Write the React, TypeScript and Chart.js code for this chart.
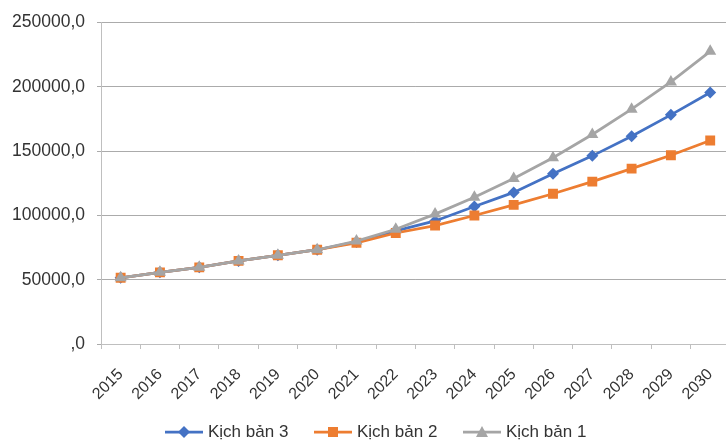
import React, { useEffect, useRef } from "react";
import { Chart, registerables } from "chart.js";

Chart.register(...registerables);

const years = ["2015", "2016", "2017", "2018", "2019", "2020", "2021", "2022", "2023", "2024", "2025", "2026", "2027", "2028", "2029", "2030"];
const kichBan3 = [51500, 55700, 59600, 64600, 69000, 73300, 79400, 88000, 95700, 106900, 117900, 132300, 146300, 161500, 178200, 195600];
const kichBan2 = [51500, 55700, 59600, 64600, 69000, 73300, 78700, 86300, 92100, 99900, 108200, 116800, 126300, 136400, 146800, 158300];
const kichBan1 = [51500, 55700, 59600, 64600, 69000, 73300, 80000, 89200, 101000, 114100, 128700, 144800, 162900, 182600, 203800, 227600];
const yTicks = [0, 50000, 100000, 150000, 200000, 250000];

const FONT = "'Liberation Sans', Arial, sans-serif";
const TEXT = "#333333";
const BLUE = "#4472C4";
const ORANGE = "#ED7D31";
const GRAY = "#A5A5A5";

const legendItems = [
  { label: "Kịch bản 3", color: BLUE, marker: "diamond", left: 165 },
  { label: "Kịch bản 2", color: ORANGE, marker: "square", left: 314 },
  { label: "Kịch bản 1", color: GRAY, marker: "triangle", left: 463 },
];

function Marker({ kind, color }: { kind: string; color: string }) {
  if (kind === "diamond") return <polygon points="19,2 25,8 19,14 13,8" fill={color} />;
  if (kind === "square") return <rect x={14} y={3} width={10} height={10} fill={color} />;
  return <polygon points="19,2 25,13 13,13" fill={color} />;
}

export default function App() {
  const ref = useRef<HTMLCanvasElement | null>(null);
  useEffect(() => {
    if (!ref.current) return;
    const chart = new Chart(ref.current, {
      type: "line",
      data: {
        labels: years,
        datasets: [
          { label: "Kịch bản 1", data: kichBan1, borderColor: GRAY, backgroundColor: GRAY, borderWidth: 2.75, pointStyle: "triangle", pointRadius: 7, pointBorderWidth: 0, tension: 0 },
          { label: "Kịch bản 2", data: kichBan2, borderColor: ORANGE, backgroundColor: ORANGE, borderWidth: 2.75, pointStyle: "rect", pointRadius: 7, pointBorderWidth: 0, tension: 0 },
          { label: "Kịch bản 3", data: kichBan3, borderColor: BLUE, backgroundColor: BLUE, borderWidth: 2.75, pointStyle: "rectRot", pointRadius: 6, pointBorderWidth: 0, tension: 0 },
        ],
      },
      options: {
        responsive: false,
        animation: false,
        layout: { padding: { top: 20, right: 0, left: 0, bottom: 39 } },
        plugins: { legend: { display: false }, tooltip: { enabled: false } },
        scales: {
          x: {
            type: "category",
            offset: true,
            grid: { offset: true, drawOnChartArea: false, drawTicks: true, tickLength: 5, color: "#bfbfbf" },
            border: { color: "#bfbfbf" },
            ticks: { minRotation: 45, maxRotation: 45, autoSkip: false, color: TEXT, font: { family: FONT, size: 16 }, padding: 16 },
            afterFit: (s: any) => { s.height = 60; },
          },
          y: {
            min: 0,
            max: 250000,
            afterBuildTicks: (s: any) => { s.ticks = yTicks.map((v) => ({ value: v })); },
            ticks: {
              color: TEXT,
              font: { family: FONT, size: 17.5 },
              padding: 12,
              callback: (v: any) => (Number(v) === 0 ? ",0" : `${v},0`),
            },
            grid: { color: "#ababab", tickLength: 4 },
            border: { color: "#bfbfbf" },
            afterFit: (s: any) => { s.width = 101; },
          },
        },
      },
    });
    return () => chart.destroy();
  }, []);

  return (
    <div style={{ position: "absolute", left: 0, top: 0, width: 726, height: 443, background: "#fff", overflow: "hidden" }}>
      <canvas ref={ref} width={740} height={443} style={{ width: 740, height: 443, display: "block" }} />
      {legendItems.map((it) => (
        <div key={it.label} style={{ position: "absolute", left: it.left, top: 422, height: 20, display: "flex", alignItems: "center", fontFamily: FONT, fontSize: 17, color: TEXT, whiteSpace: "nowrap" }}>
          <svg width={40} height={16} style={{ marginRight: 3 }}>
            <line x1={0} y1={8} x2={38} y2={8} stroke={it.color} strokeWidth={2.75} />
            <Marker kind={it.marker} color={it.color} />
          </svg>
          <span>{it.label}</span>
        </div>
      ))}
    </div>
  );
}
